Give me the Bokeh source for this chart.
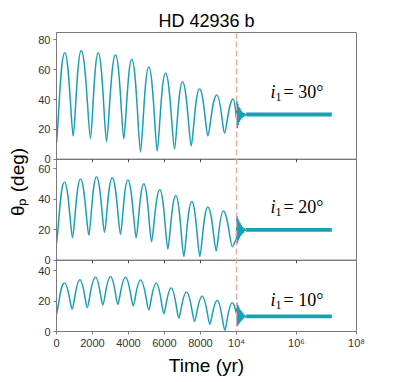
import numpy as np
from bokeh.plotting import figure
from bokeh.models import Range1d, FixedTicker, Span
from bokeh.embed import file_html
from bokeh.resources import INLINE
from bokeh.core.properties import value

# ---------------- data ----------------
title_text = "HD 42936 b"
xlabel = "Time (yr)"
ylabel = "θₚ (deg)"

# panel 1: i1 = 30 deg
t1 = [0, 461, 928, 1372, 1889, 2317, 2778, 3278, 3739, 4183, 4667, 5128, 5594,
      6055, 6556, 7000, 7483, 7944, 8406, 8906, 9333, 9817, 10000]
v1 = [11, 71.5, 15.6, 72.9, 13.8, 71.5, 11.8, 70, 13.8, 67.1, 4.9, 61.8, 5.6,
      57.8, 6.7, 52, 8.9, 47.3, 15.6, 43.1, 17.3, 40.4, 28]
# panel 2: i1 = 20 deg
t2 = [0, 444, 889, 1333, 1796, 2222, 2667, 3094, 3556, 3961, 4428, 4850, 5278,
      5739, 6183, 6628, 7072, 7517, 7961, 8406, 8872, 9261, 9761, 10000]
v2 = [11, 51.3, 14.8, 53.4, 16.5, 54.9, 18.2, 54.3, 16.9, 52.8, 14.8, 50.2, 12.2,
      46.3, 7.4, 42.5, 2.4, 38.6, 2.4, 35, 6.1, 32.4, 8.9, 14]
# panel 3: i1 = 10 deg
t3 = [0, 444, 872, 1296, 1706, 2167, 2572, 3000, 3406, 3833, 4261, 4667, 5128,
      5539, 5961, 6372, 6794, 7222, 7667, 8094, 8517, 8928, 9350, 9761, 10000]
v3 = [11.3, 32, 14.6, 34.1, 15.7, 35.7, 17.4, 36.3, 17.8, 35.7, 16.8, 33.9, 14.2,
      31.8, 11.7, 28.7, 8.7, 26.1, 6.5, 23.3, 4.8, 20.4, 0.8, 18.9, 12]

# fast transient right after 10^4 yr
tr_t = [10000, 10350, 10700, 11100, 11500, 12000, 12500, 13100, 13700, 14400,
        15200, 16000, 17000, 18200, 19500, 21000]
tr_v1 = [28, 39, 21, 37, 23, 35, 25, 34, 26.5, 32.5, 27.5, 31.5, 28.5, 30.8, 29.4, 30]
tr_v2 = [14, 29, 11, 27.5, 13, 26, 14.5, 24.5, 16, 23, 17, 22, 18, 21, 19.5, 20]
tr_v3 = [12, 19, 3.5, 17.5, 4.5, 16, 5.5, 14.5, 6.5, 13.5, 7.5, 12.5, 8.5, 11, 9.5, 10]

# final equilibrium
plateau_t = [21000, 15000000]
plateau_vals = [30, 20, 10]
incl_labels = ["= 30°", "= 20°", "= 10°"]

y_max = [85, 66.4, 47]
y_ticks = [[0, 20, 40, 60, 80], [0, 20, 40, 60], [0, 20, 40]]

x_tick_vals = [0, 2000, 4000, 6000, 8000, 10000, 1e6, 1e8]
x_tick_labels = ["0", "2000", "4000", "6000", "8000", "10⁴", "10⁶", "10⁸"]

label_t = 2.0e5
label_y = [45, 35, 20.5]
t_switch = 10000

# ---------------- layout of the stacked panels ----------------
panel_h = [128, 102, 72]             # relative heights of the three panels (top->bottom)
bottoms = [panel_h[1] + panel_h[2], panel_h[2], 0]
total_h = sum(panel_h)
LIN_UNITS = 6.0   # width of the linear part in axis units (one decade = 1 unit)


def hx(t):
    t = np.asarray(t, dtype=float)
    return np.where(t <= t_switch, t / t_switch * LIN_UNITS,
                    LIN_UNITS + np.log10(np.maximum(t, t_switch) / t_switch))


def py(i, v):
    return bottoms[i] + np.asarray(v, dtype=float) * panel_h[i] / y_max[i]


LINE = "#1a9fb4"
GRAY = "#7a7a7a"
DARK = "#444444"
SANS = "Liberation Sans"
SERIF = "Liberation Serif"

p = figure(width=386, height=378, x_range=Range1d(0, 10), y_range=Range1d(0, total_h),
           toolbar_location=None, output_backend="svg",
           min_border_left=56, min_border_right=30, min_border_top=32,
           min_border_bottom=44)
p.background_fill_color = "white"
p.border_fill_color = "white"
p.outline_line_color = GRAY
p.grid.visible = False

p.title.text = title_text
p.title.align = "center"
p.title.offset = 7
p.title.text_font = SANS
p.title.text_font_size = "18px"
p.title.text_font_style = "normal"
p.title.text_color = "black"
p.title.standoff = 3

# y axis: one axis carrying the ticks of all three panels
yt, ylab = [], {}
for i in range(3):
    for tk in y_ticks[i]:
        pos = float(round(float(py(i, tk)), 6))
        yt.append(pos)
        ylab[pos] = str(tk)
yax = p.yaxis[0]
yax.ticker = FixedTicker(ticks=yt)
yax.major_label_overrides = ylab
yax.axis_line_color = GRAY
yax.major_tick_line_color = GRAY
yax.major_tick_out = 3
yax.major_tick_in = 0
yax.minor_tick_line_color = None
yax.major_label_text_font = SANS
yax.major_label_text_font_size = "11px"
yax.major_label_text_color = "#333333"
yax.major_label_standoff = 3
yax.axis_label = ylabel
yax.axis_label_text_font = SANS
yax.axis_label_text_font_size = "19px"
yax.axis_label_text_font_style = "normal"
yax.axis_label_text_color = "black"
yax.axis_label_standoff = 7

xt = [float(round(float(u), 6)) for u in hx(x_tick_vals)]
xax = p.xaxis[0]
xax.ticker = FixedTicker(ticks=xt)
xax.major_label_overrides = {u: lab for u, lab in zip(xt, x_tick_labels)}
xax.axis_line_color = GRAY
xax.major_tick_line_color = GRAY
xax.major_tick_out = 3
xax.major_tick_in = 0
xax.minor_tick_line_color = None
xax.major_label_text_font = SANS
xax.major_label_text_font_size = "11px"
xax.major_label_text_color = "#333333"
xax.major_label_standoff = 2
xax.axis_label = xlabel
xax.axis_label_text_font = SANS
xax.axis_label_text_font_size = "19px"
xax.axis_label_text_font_style = "normal"
xax.axis_label_text_color = "black"
xax.axis_label_standoff = 3

# panel separators with their small downward ticks
for b in bottoms[:2]:
    p.add_layout(Span(location=b, dimension="width", line_color=DARK, line_width=1))
    inner = xt[1:-1]
    p.segment(x0=inner, y0=[b] * len(inner), x1=inner, y1=[b - 3] * len(inner),
              line_color=DARK, line_width=1)

p.add_layout(Span(location=float(hx(t_switch)), dimension="height",
                  line_color="#eda4a4", line_dash="6 3", line_width=1.3))


def is_ext(v, k):
    if k == 0 or k == len(v) - 1:
        return None
    if v[k] > v[k - 1] and v[k] > v[k + 1]:
        return "peak"
    if v[k] < v[k - 1] and v[k] < v[k + 1]:
        return "trough"
    return None


FAC = {"peak": 0.5, "trough": 0.2, None: 0.33}


def draw_curve(i, t, v):
    x = hx(t)
    y = py(i, v)
    n = len(x)
    x0, y0, x1, y1, cx0, cy0, cx1, cy1 = [], [], [], [], [], [], [], []
    for k in range(n - 1):
        dx = x[k + 1] - x[k]
        dy = y[k + 1] - y[k]
        e0, e1 = is_ext(v, k), is_ext(v, k + 1)
        f0, f1 = FAC[e0], FAC[e1]
        x0.append(x[k]); y0.append(y[k]); x1.append(x[k + 1]); y1.append(y[k + 1])
        cx0.append(x[k] + f0 * dx)
        cy0.append(y[k] if e0 else y[k] + f0 * dy)
        cx1.append(x[k + 1] - f1 * dx)
        cy1.append(y[k + 1] if e1 else y[k + 1] - f1 * dy)
    p.bezier(x0=x0, y0=y0, x1=x1, y1=y1, cx0=cx0, cy0=cy0, cx1=cx1, cy1=cy1,
             line_color=LINE, line_width=1.5)


series = [(t1, v1, tr_v1), (t2, v2, tr_v2), (t3, v3, tr_v3)]
for i, (t, v, trv) in enumerate(series):
    draw_curve(i, t, v)
    p.line(x=hx(tr_t), y=py(i, trv), line_color=LINE, line_width=1.5)
    p.line(x=hx(plateau_t), y=py(i, [plateau_vals[i]] * 2), line_color=LINE,
           line_width=3.8)

    lx = [float(hx(label_t))]
    ly = [float(py(i, label_y[i]))]
    p.text(x=lx, y=ly, text=["i"], text_font=value(SERIF), text_font_size="18px",
           text_font_style="italic", text_align="right", text_baseline="middle",
           text_color="black")
    p.text(x=lx, y=ly, text=["1"], text_font=value(SERIF), text_font_size="12px",
           text_align="left", text_baseline="middle", y_offset=5, x_offset=0,
           text_color="black")
    p.text(x=lx, y=ly, text=[incl_labels[i]], text_font=value(SERIF),
           text_font_size="18px", text_align="left", text_baseline="middle",
           x_offset=8, text_color="black")

open("out.html", "w").write(file_html(p, INLINE))
